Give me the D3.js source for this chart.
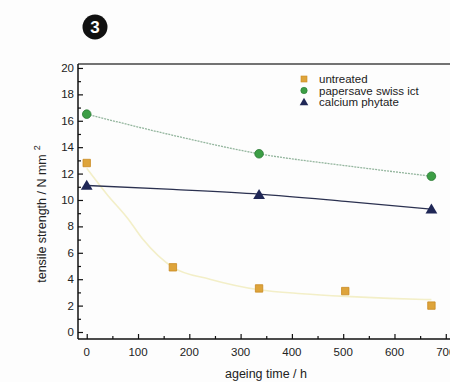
<!DOCTYPE html>
<html>
<head>
<meta charset="utf-8">
<script src="https://cdn.jsdelivr.net/npm/d3@7"></script>
<style>
  body { margin: 0; background: #fdfdfd; }
  svg { display: block; font-family: "Liberation Sans", Arial, sans-serif; }
</style>
</head>
<body>
<svg id="chart" width="450" height="382"></svg>
<script>
// ageing time in hours (weekly samples)
const hours = [0, 168, 336, 504, 672];
const hoursTreated = [0, 336, 672];

// tensile strength / N mm^-2
const untreated = [12.8, 4.9, 3.3, 3.1, 2.0];
const papersave = [16.5, 13.5, 11.8];
const phytate = [11.1, 10.4, 9.3];

// fitted curves
const fitUntreatedX = [0, 40, 80, 110, 168, 240, 336, 420, 504, 590, 672];
const fitUntreatedY = [12.4, 10.4, 8.6, 7.0, 4.9, 4.0, 3.2, 2.9, 2.7, 2.55, 2.45];
const fitPapersaveX = [0, 168, 336, 504, 672];
const fitPapersaveY = [16.5, 14.9, 13.5, 12.6, 11.8];
const fitPhytateX = [0, 168, 336, 504, 672];
const fitPhytateY = [11.1, 10.8, 10.45, 9.9, 9.3];

const legendLabels = ['untreated', 'papersave swiss ict', 'calcium phytate'];
const xTicks = [0, 100, 200, 300, 400, 500, 600, 700];
const yTicks = [0, 2, 4, 6, 8, 10, 12, 14, 16, 18, 20];

const svg = d3.select('#chart');

const x = d3.scaleLinear().domain([-17, 717]).range([78, 454.5]);
const y = d3.scaleLinear().domain([-0.53, 20.3]).range([339, 64]);

const colors = {
  untreated: '#dea43a',
  untreatedEdge: '#c98a22',
  papersave: '#3c9e45',
  papersaveEdge: '#2a7a33',
  phytate: '#1f2756'
};

// badge
const badge = svg.append('g').attr('transform', 'translate(95,27)');
badge.append('circle').attr('r', 12.5).attr('fill', '#111');
badge.append('text')
  .attr('text-anchor', 'middle')
  .attr('dy', '0.36em')
  .attr('fill', '#fff')
  .attr('font-weight', 'bold')
  .attr('font-size', 17)
  .text('3');

// frame top
svg.append('line')
  .attr('x1', x.range()[0]).attr('x2', 450)
  .attr('y1', y.range()[1]).attr('y2', y.range()[1])
  .attr('stroke', '#444').attr('stroke-width', 1.3);

// axes with inward ticks
const xAxis = d3.axisTop(x).tickValues(xTicks).tickSize(5).tickFormat('');
const xMinor = d3.axisTop(x).tickValues(d3.range(50, 750, 100)).tickSize(3).tickFormat('');
const yAxis = d3.axisRight(y).tickValues(yTicks).tickSize(5).tickFormat('');
const yMinor = d3.axisRight(y).tickValues(d3.range(1, 21, 2)).tickSize(3).tickFormat('');

[xAxis, xMinor].forEach(ax => {
  svg.append('g')
    .attr('transform', `translate(0,${y.range()[0]})`)
    .call(ax)
    .call(g => g.select('.domain').remove())
    .call(g => g.selectAll('line').attr('stroke', '#111').attr('stroke-width', 1.2));
});
[yAxis, yMinor].forEach(ax => {
  svg.append('g')
    .attr('transform', `translate(${x.range()[0]},0)`)
    .call(ax)
    .call(g => g.select('.domain').remove())
    .call(g => g.selectAll('line').attr('stroke', '#111').attr('stroke-width', 1.2));
});

svg.append('line')
  .attr('x1', x.range()[0]).attr('x2', 450)
  .attr('y1', y.range()[0]).attr('y2', y.range()[0])
  .attr('stroke', '#111').attr('stroke-width', 1.5);
svg.append('line')
  .attr('x1', x.range()[0]).attr('x2', x.range()[0])
  .attr('y1', y.range()[0]).attr('y2', y.range()[1])
  .attr('stroke', '#111').attr('stroke-width', 1.5);

// tick labels
svg.append('g').selectAll('text')
  .data(xTicks)
  .join('text')
  .attr('x', d => x(d))
  .attr('y', 356)
  .attr('text-anchor', 'middle')
  .attr('font-size', 11.5)
  .attr('fill', '#222')
  .text(d => d);

svg.append('g').selectAll('text')
  .data(yTicks)
  .join('text')
  .attr('x', 74)
  .attr('y', d => y(d))
  .attr('dy', '0.35em')
  .attr('text-anchor', 'end')
  .attr('font-size', 11.5)
  .attr('fill', '#222')
  .text(d => d);

// axis titles
svg.append('text')
  .attr('x', 266)
  .attr('y', 378)
  .attr('text-anchor', 'middle')
  .attr('font-size', 12.5)
  .attr('fill', '#222')
  .text('ageing time / h');

const yTitle = svg.append('text')
  .attr('transform', 'translate(46,214) rotate(-90)')
  .attr('text-anchor', 'middle')
  .attr('font-size', 12.5)
  .attr('fill', '#222');
yTitle.append('tspan').text('tensile strength / N mm');
yTitle.append('tspan').attr('dx', 4).attr('dy', -6).attr('font-size', 9).text('2');

// fit curves
const line = d3.line().x(d => x(d[0])).y(d => y(d[1])).curve(d3.curveMonotoneX);

svg.append('path')
  .datum(d3.zip(fitUntreatedX, fitUntreatedY))
  .attr('d', line)
  .attr('fill', 'none')
  .attr('stroke', '#f3efc8')
  .attr('stroke-width', 1.6);

svg.append('path')
  .datum(d3.zip(fitPapersaveX, fitPapersaveY))
  .attr('d', line)
  .attr('fill', 'none')
  .attr('stroke', '#93b59d')
  .attr('stroke-width', 1.3)
  .attr('stroke-dasharray', '2,1');

svg.append('path')
  .datum(d3.zip(fitPhytateX, fitPhytateY))
  .attr('d', line)
  .attr('fill', 'none')
  .attr('stroke', '#2b3150')
  .attr('stroke-width', 1.3);

// markers
const sym = d3.symbol();

svg.append('g').selectAll('path')
  .data(d3.zip(hours, untreated))
  .join('path')
  .attr('transform', d => `translate(${x(d[0])},${y(d[1])})`)
  .attr('d', sym.type(d3.symbolSquare).size(55)())
  .attr('fill', colors.untreated)
  .attr('stroke', colors.untreatedEdge)
  .attr('stroke-width', 0.8);

svg.append('g').selectAll('circle')
  .data(d3.zip(hoursTreated, papersave))
  .join('circle')
  .attr('cx', d => x(d[0]))
  .attr('cy', d => y(d[1]))
  .attr('r', 4.3)
  .attr('fill', colors.papersave)
  .attr('stroke', colors.papersaveEdge)
  .attr('stroke-width', 0.8);

svg.append('g').selectAll('path')
  .data(d3.zip(hoursTreated, phytate))
  .join('path')
  .attr('transform', d => `translate(${x(d[0])},${y(d[1]) + 1})`)
  .attr('d', d3.symbol().type(d3.symbolTriangle).size(60)())
  .attr('fill', colors.phytate);

// legend
const legend = svg.append('g').attr('transform', 'translate(304,79)');
const rowH = 11.5;

legend.append('rect')
  .attr('x', -3).attr('y', -3).attr('width', 6).attr('height', 6)
  .attr('fill', colors.untreated).attr('stroke', colors.untreatedEdge).attr('stroke-width', 0.6);
legend.append('circle')
  .attr('cx', 0).attr('cy', rowH).attr('r', 3.2)
  .attr('fill', colors.papersave).attr('stroke', colors.papersaveEdge).attr('stroke-width', 0.6);
legend.append('path')
  .attr('transform', `translate(0,${rowH * 2 + 0.7})`)
  .attr('d', d3.symbol().type(d3.symbolTriangle).size(32)())
  .attr('fill', colors.phytate);

legend.selectAll('text')
  .data(legendLabels)
  .join('text')
  .attr('x', 15)
  .attr('y', (d, i) => i * rowH)
  .attr('dy', '0.35em')
  .attr('font-size', 11.5)
  .attr('fill', '#222')
  .text(d => d);
</script>
</body>
</html>
